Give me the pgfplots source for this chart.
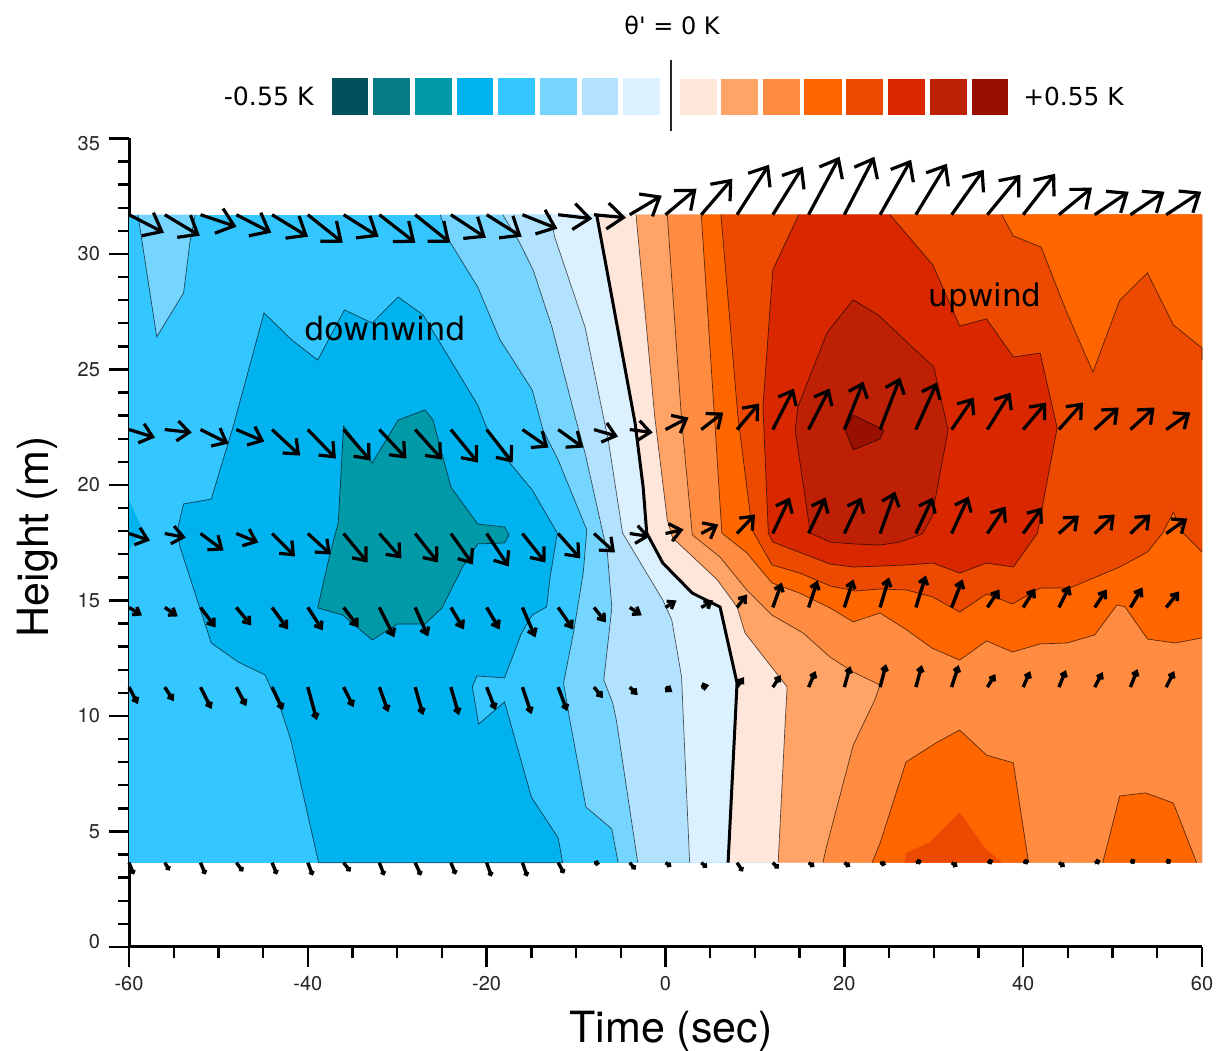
\documentclass[border=0pt]{standalone}
\usepackage{fontspec}
\setmainfont{TeX Gyre Heros}
\newfontfamily\djf{DejaVu Sans}
\usepackage{pgfplots}
\usepackage{pgfplotstable}
\pgfplotsset{compat=1.18}
\usetikzlibrary{arrows.meta}
\definecolor{b8}{HTML}{004F5C}
\definecolor{b7}{HTML}{067A85}
\definecolor{b6}{HTML}{0099A8}
\definecolor{b5}{HTML}{00B3EE}
\definecolor{b4}{HTML}{33C6FF}
\definecolor{b3}{HTML}{75D5FF}
\definecolor{b2}{HTML}{B3E2FF}
\definecolor{b1}{HTML}{DCF1FF}
\definecolor{r1}{HTML}{FFE6DA}
\definecolor{r2}{HTML}{FFA366}
\definecolor{r3}{HTML}{FF8C40}
\definecolor{r4}{HTML}{FF6600}
\definecolor{r5}{HTML}{EB4A00}
\definecolor{r6}{HTML}{D92800}
\definecolor{r7}{HTML}{BD2005}
\definecolor{r8}{HTML}{990F00}
% fill of a contour band plus its thin outline; #3 are the points closing the band along the edge
\newcommand\band[3]{%
  \addplot[fill=#1,draw=none,forget plot] coordinates {#2 #3} --cycle;
  \addplot[black,opacity=.65,line width=.35pt,forget plot] coordinates {#2};}
\newcommand\closedband[2]{%
  \addplot[fill=#1,draw=none,forget plot] coordinates {#2} --cycle;
  \addplot[black,opacity=.65,line width=.35pt,forget plot] coordinates {#2} --cycle;}
\pgfplotstableread{
x y u v
-60 31.7 35 -18
-56 31.7 35 -21
-52 31.7 36 -12
-48 31.7 35 -18
-44 31.7 36 -22
-40 31.7 35 -28
-36 31.7 35 -22
-32 31.7 36 -28
-28 31.7 35 -28
-24 31.7 35 -23
-20 31.7 35 -22
-16 31.7 35 -14
-12 31.7 34 -4
-8 31.7 32 -3
-4 31.7 32 19
0 31.7 31 26
4 31.7 31 36
8 31.7 32 50
12 31.7 30 48
16 31.7 31 58
20 31.7 30 58
24 31.7 31 55
28 31.7 31 51
32 31.7 32 45
36 31.7 33 40
40 31.7 32 41
44 31.7 33 27
48 31.7 34 23
52 31.7 34 23
56 31.7 35 23
}\rowF
\pgfplotstableread{
x y u v
-60 22.4 26 -8
-56 22.4 27 -3
-52 22.4 28 -14
-48 22.4 28 -12
-44 22.4 28 -26
-40 22.4 28 -29
-36 22.4 27 -31
-32 22.4 27 -29
-28 22.4 27 -30
-24 22.4 27 -33
-20 22.4 26 -33
-16 22.4 26 -18
-12 22.4 25 -18
-8 22.4 24 -7
-4 22.4 23 -3
0 22.4 23 12
4 22.4 22 17
8 22.4 22 26
12 22.4 21 41
16 22.4 21 41
20 22.4 19 48
24 22.4 20 52
28 22.4 21 47
32 22.4 22 32
36 22.4 23 37
40 22.4 23 27
44 22.4 24 27
48 22.4 24 22
52 22.4 24 22
56 22.4 24 17
}\rowE
\pgfplotstableread{
x y u v
-60 17.9 21 -7
-56 17.9 21 -4
-52 17.9 23 -17
-48 17.9 22 -9
-44 17.9 23 -23
-40 17.9 23 -21
-36 17.9 24 -29
-32 17.9 22 -25
-28 17.9 23 -29
-24 17.9 22 -31
-20 17.9 22 -33
-16 17.9 23 -29
-12 17.9 22 -25
-8 17.9 21 -19
-4 17.9 20 -3
0 17.9 18 4
4 17.9 17 9
8 17.9 18 19
12 17.9 17 36
16 17.9 17 36
20 17.9 17 36
24 17.9 15 42
28 17.9 17 36
32 17.9 17 37
36 17.9 18 27
40 17.9 19 26
44 17.9 20 18
48 17.9 20 19
52 17.9 20 19
56 17.9 21 15
}\rowD
\pgfplotstableread{
x y u v
-60 14.7 13 -8
-56 14.7 13 -9
-52 14.7 15 -20
-48 14.7 15 -18
-44 14.7 16 -22
-40 14.7 15 -23
-36 14.7 15 -20
-32 14.7 15 -30
-28 14.7 13 -29
-24 14.7 13 -22
-20 14.7 13 -22
-16 14.7 13 -30
-12 14.7 15 -22
-8 14.7 12 -15
-4 14.7 12 -8
0 14.7 11 7
4 14.7 12 7
8 14.7 10 13
12 14.7 9 25
16 14.7 9 27
20 14.7 9 28
24 14.7 9 30
28 14.7 10 32
32 14.7 11 28
36 14.7 12 18
40 14.7 12 19
44 14.7 11 22
48 14.7 12 18
52 14.7 12 20
56 14.7 13 16
}\rowC
\pgfplotstableread{
x y u v
-60 11.25 9 -17
-56 11.25 9 -14
-52 11.25 11 -22
-48 11.25 10 -19
-44 11.25 11 -23
-40 11.25 9 -33
-36 11.25 10 -20
-32 11.25 9 -25
-28 11.25 8 -28
-24 11.25 8 -28
-20 11.25 9 -23
-16 11.25 9 -27
-12 11.25 9 -24
-8 11.25 9 -11
-4 11.25 8 -8
0 11.25 7 -5
4 11.25 8 2
8 11.25 7 10
12 11.25 8 12
16 11.25 7 16
20 11.25 6 21
24 11.25 6 23
28 11.25 6 22
32 11.25 7 22
36 11.25 8 13
40 11.25 7 16
44 11.25 7 17
48 11.25 8 15
52 11.25 7 18
56 11.25 8 16
}\rowB
\pgfplotstableread{
x y u v
-60 3.65 5 -12
-56 3.65 5 -8
-52 3.65 5 -12
-48 3.65 7 -9
-44 3.65 5 -12
-40 3.65 5 -13
-36 3.65 7 -9
-32 3.65 5 -13
-28 3.65 6 -13
-24 3.65 5 -12
-20 3.65 5 -14
-16 3.65 5 -14
-12 3.65 6 -11
-8 3.65 6 -1
-4 3.65 6 -7
0 3.65 6 -4
4 3.65 6 -5
8 3.65 6 -9
12 3.65 6 -6
16 3.65 6 -4
20 3.65 6 -4
24 3.65 6 -2
28 3.65 6 2
32 3.65 6 -4
36 3.65 6 2
40 3.65 6 2
44 3.65 6 -4
48 3.65 6 2
52 3.65 5 3
56 3.65 5 3
}\rowA
\newcommand\arrows[4]{%
  \addplot[black,line width=#4,-{Straight Barb[length=#2,width=#3]},
    quiver={u=\thisrow{u}*0.1119,v=\thisrow{v}*0.0433}] table {#1};}
\begin{document}
\begin{tikzpicture}
\useasboundingbox (0,0) rectangle (614pt,525.5pt);
\begin{axis}[
  at={(64.5pt,52pt)},
  scale only axis,width=536.5pt,height=404.25pt,
  xmin=-60,xmax=60,ymin=0,ymax=35,
  axis x line=bottom,axis y line=left,
  axis line style={line width=1.5pt,-},
  clip=false,
  tick style={black,line width=1.2pt},
  tick align=outside,
  major tick length=10pt,minor tick length=5.5pt,
  xtick={-60,-40,-20,0,20,40,60},
  ytick={0,5,10,15,20,25,30,35},
  yticklabels={{\raisebox{-0.6pt}[0pt][0pt]{0}},5,10,15,20,25,30,{\raisebox{-6.1pt}[0pt][0pt]{35}}},
  minor x tick num=3,minor y tick num=4,
  /pgf/number format/assume math mode=true,
  tick label style={font=\fontsize{10}{12}\selectfont,text=black!85},
  xticklabel style={yshift=-1pt},
  yticklabel style={xshift=-1pt},
]
% background level
\addplot[fill=b4,draw=none,forget plot] coordinates {(-60,3.65)(60,3.65)(60,31.7)(-60,31.7)} --cycle;
% cold core
\closedband{b5}{(-38.8,3.65)(-41.9,8.96)(-43.0,10.26)(-44.8,11.78)(-47.8,12.34)(-50.8,13.16)(-54.3,17.32)(-54.6,18.05)(-53.9,19.18)(-50.8,19.39)(-48.3,22.60)(-44.9,27.45)(-41.8,26.28)(-38.9,25.41)(-35.9,27.58)(-32.8,27.01)(-29.9,28.14)(-27.1,27.36)(-21.0,23.46)(-19.9,22.38)(-17.4,20.95)(-14.9,19.78)(-12.1,17.92)(-12.9,16.02)(-13.3,14.72)(-14.9,14.37)(-16.1,13.59)(-18.0,11.65)(-21.1,11.73)(-21.6,11.26)(-20.9,9.65)(-18.0,10.61)(-15.0,6.49)(-12.0,4.72)(-11.5,3.65)}
\addplot[fill=b5,draw=none,forget plot] coordinates {(-60,19.35)(-58.5,18.05)(-60,17.19)} --cycle;
\closedband{b6}{(-36.0,22.55)(-36.6,18.35)(-37.5,17.06)(-38.9,14.68)(-36.1,14.37)(-32.8,13.29)(-30.0,13.98)(-26.9,13.98)(-25.0,14.68)(-22.7,16.45)(-21.0,17.45)(-18.0,17.49)(-17.5,17.84)(-18.0,18.18)(-21.0,18.31)(-24.0,19.91)(-26.0,22.81)(-26.9,23.25)(-29.9,22.81)(-32.8,20.95)}
\band{b3}{(-59.0,31.7)(-56.9,26.41)(-53.9,28.31)(-53.2,30.48)(-52.6,31.7)}{}
% bands from left to right
\band{b3}{(-25.2,31.7)(-24.1,30.52)(-21.0,28.57)(-18.5,26.28)(-14.9,24.11)(-13.7,22.38)(-12.0,21.08)(-8.8,18.05)(-9.2,16.19)(-10.3,13.59)(-11.4,11.43)(-10.7,9.83)(-8.9,6.06)(-6.0,5.11)(-5.3,3.65)}{(60,3.65)(60,31.7)}
\band{b2}{(-18.2,31.7)(-16.3,30.48)(-14.8,29.31)(-12.7,26.84)(-10.1,22.94)(-9.0,21.39)(-6.5,17.06)(-6.0,14.68)(-6.9,11.56)(-5.9,10.56)(-5.5,9.83)(-3.1,3.65)}{(60,3.65)(60,31.7)}
\band{b1}{(-12.9,31.7)(-12.4,30.74)(-9.0,26.84)(-6.8,22.68)(-6.4,21.95)(-4.8,17.92)(-0.3,15.02)(0.7,14.16)(1.8,11.69)(2.0,9.83)(2.7,3.65)}{(60,3.65)(60,31.7)}
\addplot[fill=r1,draw=none,forget plot] coordinates {(-7.7,31.7)(-3.4,22.68)(-2.5,19.91)(-2.1,17.92)(-0.3,16.62)(3.0,15.32)(6.1,14.72)(8.0,11.43)(7.8,9.83)(7.0,3.65)(60,3.65)(60,31.7)} --cycle;
\band{r2}{(-3.3,31.7)(-1.2,22.94)(0.2,18.48)(0.8,17.71)(5.8,15.89)(8.0,14.72)(8.9,13.59)(13.6,11.26)(13.4,9.83)(12.6,3.65)}{(60,3.65)(60,31.7)}
\band{r3}{(0.2,31.7)(1.8,22.81)(3.0,17.84)(6.1,16.88)(9.1,15.45)(11.9,14.37)(15.4,13.59)(18.4,12.55)(21.0,11.90)(24.0,11.34)(23.4,10.69)(21.0,8.74)(18.0,4.33)(17.6,3.65)}{(60,3.65)(60,31.7)}
\band{r4}{(4.0,31.7)(5.5,22.81)(6.3,17.92)(9.1,17.06)(11.9,15.76)(15.0,15.32)(18.4,14.68)(21.0,14.07)(24.0,14.46)(27.0,13.72)(29.8,12.94)(32.9,12.42)(35.9,13.25)(38.8,12.77)(41.9,13.12)(44.9,13.16)(48.0,13.51)(50.5,14.81)(51.4,14.72)(53.9,13.33)(57.0,13.16)(60,13.38)}{(60,31.7)}
\band{r4}{(23.1,3.65)(24.0,4.50)(26.9,8.01)(30.4,8.87)(32.9,9.39)(35.9,8.31)(38.9,7.97)(40.6,3.65)}{}
\band{r4}{(48.9,3.65)(50.8,6.54)(53.7,6.67)(56.8,6.23)(59.4,3.65)}{}
\addplot[fill=r5,draw=none,forget plot] coordinates {(26.7,3.65)(26.9,4.07)(29.6,4.55)(32.9,5.84)(35.7,4.29)(37.6,3.65)} --cycle;
\band{r5}{(6.2,31.7)(8.1,22.94)(9.7,18.05)(11.9,16.54)(15.0,16.19)(18.4,15.63)(21.2,15.41)(24.0,15.50)(27.0,15.45)(29.9,15.15)(32.9,14.50)(35.9,15.28)(38.8,14.85)(41.9,15.54)(45.2,15.54)(50.8,16.45)(53.9,17.10)(55.6,17.92)(56.8,18.83)(57.9,17.92)(60,17.10)}{(60,31.7)}
\band{r4}{(37.6,31.7)(38.9,30.78)(42.0,30.30)(44.9,27.45)(47.8,24.89)(50.8,28.0)(53.9,29.18)(56.8,26.93)(60,25.93)(60,25.4)}{(60,31.7)}
\band{r6}{(14.9,31.7)(12.0,29.31)(10.9,23.38)(11.5,17.92)(12.0,17.53)(18.4,16.58)(21.0,16.45)(24.0,16.49)(27.0,16.54)(29.9,16.62)(32.9,16.19)(35.9,16.62)(38.9,16.45)(41.6,17.92)(43.8,22.47)(41.9,25.71)(38.9,25.54)(35.9,27.19)(32.9,26.88)(29.9,29.52)(25.1,31.7)}{}
\closedband{r7}{(21.0,28.01)(18.1,26.62)(14.8,23.38)(14.5,22.38)(16.2,17.92)(18.4,17.53)(21.0,17.45)(24.0,17.40)(26.2,17.53)(28.7,17.88)(29.8,18.61)(31.6,22.38)(30.0,25.11)(27.1,26.15)(23.8,27.36)}
\closedband{r8}{(21.0,23.03)(24.4,22.38)(24.0,21.99)(21.0,21.52)(20.1,22.38)}
% theta' = 0 line
\addplot[black,line width=1.5pt,forget plot] coordinates {(-7.7,31.7)(-3.4,22.68)(-2.5,19.91)(-2.1,17.92)(-0.3,16.62)(3.0,15.32)(6.1,14.72)(8.0,11.43)(7.8,9.83)(7.0,3.65)};
% wind vectors
\arrows{\rowF}{8pt}{13pt}{1.6pt}
\arrows{\rowE}{6pt}{10pt}{1.6pt}
\arrows{\rowD}{5.5pt}{9pt}{1.6pt}
\arrows{\rowC}{3pt}{4.5pt}{1.7pt}
\arrows{\rowB}{2pt}{3pt}{1.7pt}
\arrows{\rowA}{1pt}{2pt}{1.7pt}
\end{axis}
\begin{scope}[shift={(0,525.5pt)},x=0.5pt,y=-0.5pt]
\node[font=\djf\fontsize{16}{18}\selectfont] at (385,329) {downwind};
\node[font=\djf\fontsize{15.5}{18}\selectfont] at (985,298) {upwind};
\node[font=\fontsize{21.5}{26}\selectfont] at (671,1031) {Time (sec)};
\node[font=\fontsize{21.5}{26}\selectfont,rotate=90] at (38,537) {Height (m)};
\node[font=\djf\fontsize{12}{14}\selectfont] at (672,25) {θ' = 0 K};
\node[font=\djf\fontsize{12.6}{15}\selectfont,anchor=east,inner sep=0pt] at (314,96) {-0.55 K};
\node[font=\djf\fontsize{12.4}{15}\selectfont,anchor=west,inner sep=0pt] at (1023,96) {+0.55 K};
\fill[b8] (332,78) rectangle (368,115);
\fill[b7] (373,78) rectangle (410,115);
\fill[b6] (415,78) rectangle (452,115);
\fill[b5] (457,78) rectangle (493,115);
\fill[b4] (498,78) rectangle (535,115);
\fill[b3] (540,78) rectangle (577,115);
\fill[b2] (582,78) rectangle (618,115);
\fill[b1] (623,78) rectangle (660,115);
\draw[black!85,line width=1.2pt] (671,60) -- (671,131);
\fill[r1] (680,79) rectangle (717,115);
\fill[r2] (721,79) rectangle (758,115);
\fill[r3] (763,79) rectangle (800,115);
\fill[r4] (804,79) rectangle (842,115);
\fill[r5] (846,79) rectangle (883,115);
\fill[r6] (888,79) rectangle (925,115);
\fill[r7] (930,79) rectangle (967,115);
\fill[r8] (972,79) rectangle (1008,115);
\end{scope}
\end{tikzpicture}
\end{document}
